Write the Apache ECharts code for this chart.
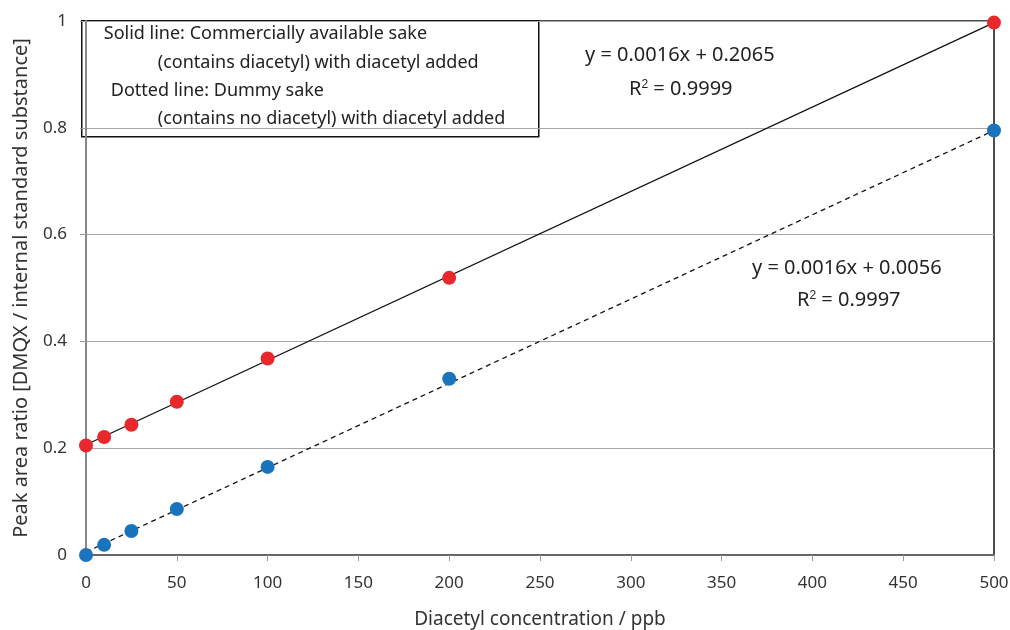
<!DOCTYPE html>
<html>
<head>
<meta charset="utf-8">
<script src="https://cdn.jsdelivr.net/npm/echarts@6/dist/echarts.min.js"></script>
<style>
  html, body { margin: 0; padding: 0; background: #fff; }
  #chart { width: 1010px; height: 630px; }
</style>
</head>
<body>
<div id="chart"></div>
<script>
var chart = echarts.init(document.getElementById('chart'));

// diacetyl added (ppb)
var conc = [0, 10, 25, 50, 100, 200, 500];
// commercially available sake (solid line)
var sakeRatio = [0.205, 0.221, 0.244, 0.287, 0.368, 0.519, 0.997];
// dummy sake (dotted line)
var dummyRatio = [0.000, 0.019, 0.045, 0.086, 0.165, 0.330, 0.795];
// fitted lines, end points
var sakeFit = [[0, 0.2065], [500, 0.997]];
var dummyFit = [[0, 0.0056], [500, 0.795]];

var font = '"Noto Sans", "Open Sans", sans-serif';
var supStyle = { fontSize: 12, verticalAlign: 'top', padding: [0, 0, 9, 0], fill: '#222' };

function pairs(xs, ys) {
    var out = [];
    for (var i = 0; i < xs.length; i++) out.push([xs[i], ys[i]]);
    return out;
}

var option = {
    backgroundColor: '#fff',
    animation: false,
    textStyle: { fontFamily: font },
    grid: {
        left: 86,
        right: 16,
        top: 21,
        bottom: 75,
        containLabel: false,
        outerBoundsMode: 'none',
        show: true,
        borderColor: '#111',
        borderWidth: 1.5,
        backgroundColor: 'transparent'
    },
    xAxis: {
        type: 'value',
        min: 0,
        max: 500,
        interval: 50,
        name: 'Diacetyl concentration / ppb',
        nameLocation: 'middle',
        nameGap: 55,
        nameTextStyle: { color: '#333', fontSize: 19, fontFamily: font },
        axisLine: { lineStyle: { color: '#666', width: 2 } },
        axisTick: { show: true, length: 6, lineStyle: { color: '#999' } },
        axisLabel: { color: '#333', fontSize: 17, margin: 20, fontFamily: font },
        splitLine: { show: false }
    },
    yAxis: {
        type: 'value',
        min: 0,
        max: 1,
        interval: 0.2,
        name: 'Peak area ratio [DMQX / internal standard substance]',
        nameLocation: 'middle',
        nameGap: 55,
        nameTextStyle: { color: '#333', fontSize: 20, fontFamily: font },
        axisLine: { lineStyle: { color: '#888', width: 2 } },
        axisTick: { show: true, length: 6, lineStyle: { color: '#999' } },
        axisLabel: {
            color: '#333', fontSize: 17, margin: 19, fontFamily: font,
            formatter: function (v) { return String(Math.round(v * 10) / 10); }
        },
        splitLine: { show: true, lineStyle: { color: '#a6a6a6', width: 1 } }
    },
    graphic: [{
        type: 'group',
        left: 81,
        top: 20,
        z: 100,
        children: [{
            type: 'rect',
            shape: { x: 0, y: 0, width: 457, height: 116 },
            style: { fill: '#fff', stroke: '#111', lineWidth: 1.5 }
        }, {
            type: 'text', x: 22, y: 4,
            style: { text: 'Solid line: Commercially available sake', fill: '#222', fontSize: 18, fontFamily: font }
        }, {
            type: 'text', x: 76, y: 33,
            style: { text: '(contains diacetyl) with diacetyl added', fill: '#222', fontSize: 18, fontFamily: font }
        }, {
            type: 'text', x: 29, y: 61,
            style: { text: 'Dotted line: Dummy sake', fill: '#222', fontSize: 18, fontFamily: font }
        }, {
            type: 'text', x: 76, y: 89,
            style: { text: '(contains no diacetyl) with diacetyl added', fill: '#222', fontSize: 18, fontFamily: font }
        }]
    }, {
        type: 'text', left: 585, top: 45, z: 100,
        style: { text: 'y = 0.0016x + 0.2065', fill: '#222', fontSize: 20, fontFamily: font }
    }, {
        type: 'text', left: 629, top: 79, z: 100,
        style: { text: 'R{sup|2} = 0.9999', fill: '#222', fontSize: 20, fontFamily: font, rich: { sup: supStyle } }
    }, {
        type: 'text', left: 752, top: 258, z: 100,
        style: { text: 'y = 0.0016x + 0.0056', fill: '#222', fontSize: 20, fontFamily: font }
    }, {
        type: 'text', left: 797, top: 290, z: 100,
        style: { text: 'R{sup|2} = 0.9997', fill: '#222', fontSize: 20, fontFamily: font, rich: { sup: supStyle } }
    }],
    series: [{
        name: 'fit sake',
        type: 'line',
        data: sakeFit,
        symbol: 'none',
        lineStyle: { color: '#111', width: 1.3 },
        z: 3
    }, {
        name: 'fit dummy',
        type: 'line',
        data: dummyFit,
        symbol: 'none',
        lineStyle: { color: '#111', width: 1.3, type: [5, 4] },
        z: 3
    }, {
        name: 'Commercially available sake',
        type: 'scatter',
        data: pairs(conc, sakeRatio),
        symbolSize: 14,
        itemStyle: { color: '#e8282c', opacity: 1 },
        z: 4
    }, {
        name: 'Dummy sake',
        type: 'scatter',
        data: pairs(conc, dummyRatio),
        symbolSize: 14,
        itemStyle: { color: '#1a73bd', opacity: 1 },
        z: 4
    }]
};

chart.setOption(option);
</script>
</body>
</html>
